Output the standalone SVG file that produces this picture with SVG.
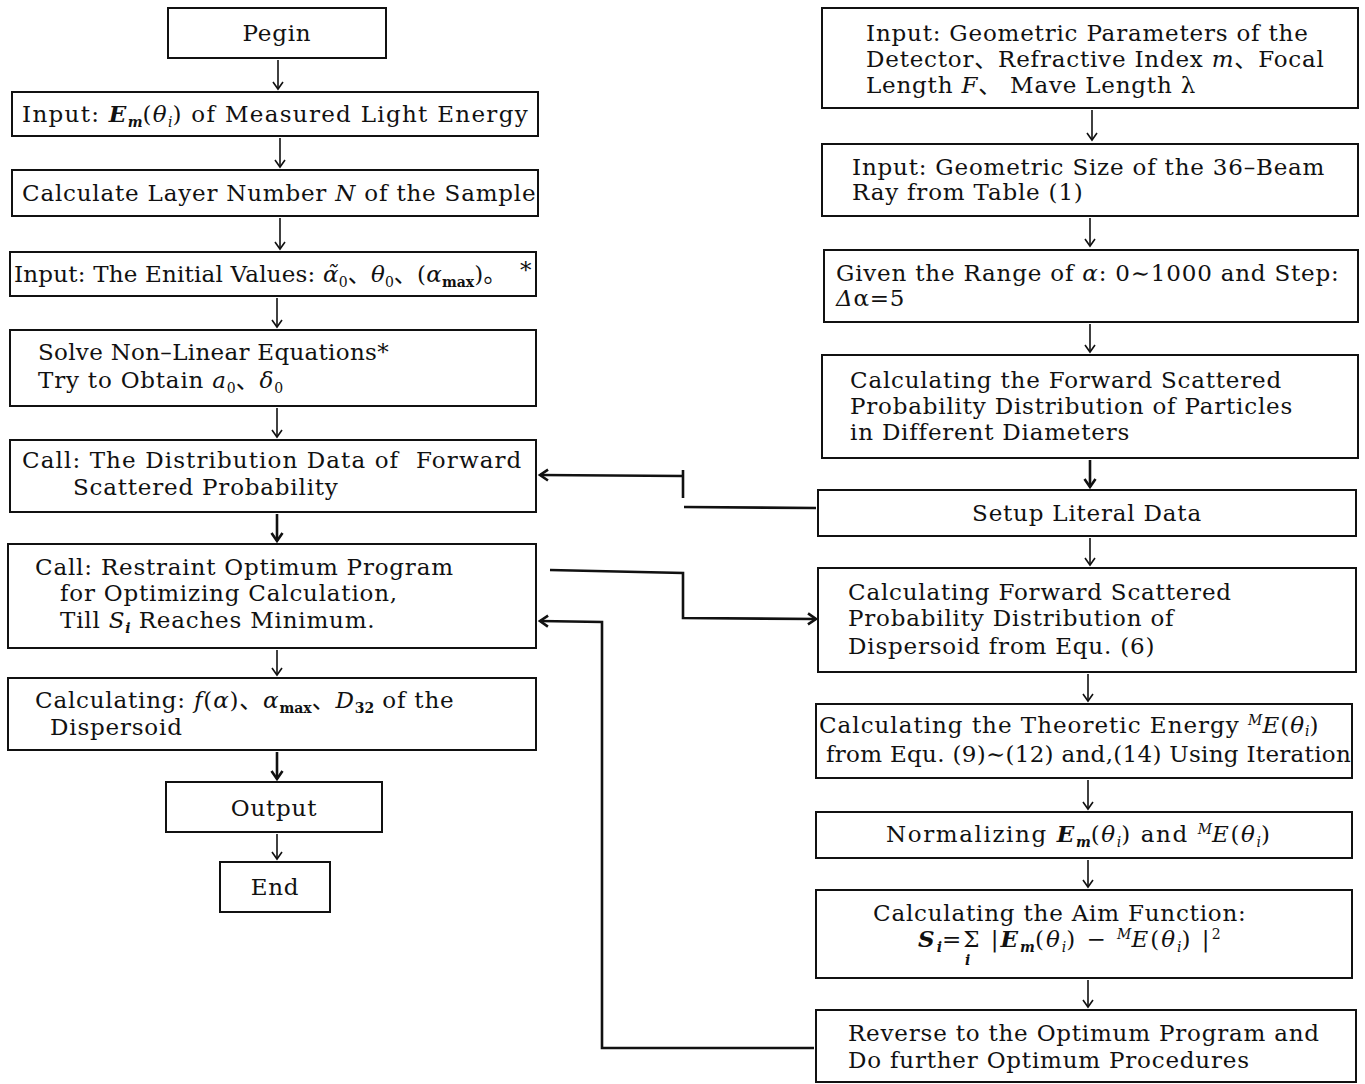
<svg xmlns="http://www.w3.org/2000/svg" width="1365" height="1084" viewBox="0 0 1365 1084">
<defs>
<style>
.box{fill:#fff;stroke:#111;stroke-width:2}
.t{font-family:"DejaVu Serif","Noto Sans CJK SC",serif;font-size:23px;letter-spacing:0.8px;fill:#111}
.c{text-anchor:middle}
.i{font-style:italic}
.b{font-weight:bold}
.s{font-size:14px;letter-spacing:0}
.ln{fill:none;stroke:#111;stroke-width:1.6}
.lb{fill:none;stroke:#111;stroke-width:2.6}
</style>
<marker id="ah" markerUnits="userSpaceOnUse" markerWidth="14" markerHeight="14" refX="12" refY="7" orient="auto">
<path d="M5,2 L12,7 L5,12" fill="none" stroke="#111" stroke-width="1.6"/>
</marker>
<marker id="ahb" markerUnits="userSpaceOnUse" markerWidth="16" markerHeight="16" refX="13" refY="8" orient="auto">
<path d="M5,2.5 L13,8 L5,13.5" fill="none" stroke="#111" stroke-width="2.6"/>
</marker>
</defs>
<rect width="1365" height="1084" fill="#fff"/>

<g id="connectors">
<line class="ln" x1="278" y1="60" x2="278" y2="89" marker-end="url(#ah)"/>
<line class="ln" x1="280" y1="138" x2="280" y2="167" marker-end="url(#ah)"/>
<line class="ln" x1="280" y1="218" x2="280" y2="249" marker-end="url(#ah)"/>
<line class="ln" x1="277" y1="298" x2="277" y2="327" marker-end="url(#ah)"/>
<line class="ln" x1="277" y1="408" x2="277" y2="437" marker-end="url(#ah)"/>
<line class="lb" x1="277" y1="514" x2="277" y2="541" marker-end="url(#ahb)"/>
<line class="ln" x1="277" y1="650" x2="277" y2="675" marker-end="url(#ah)"/>
<line class="lb" x1="277" y1="752" x2="277" y2="779" marker-end="url(#ahb)"/>
<line class="ln" x1="277" y1="834" x2="277" y2="859" marker-end="url(#ah)"/>

<line class="ln" x1="1092" y1="110" x2="1092" y2="140" marker-end="url(#ah)"/>
<line class="ln" x1="1090" y1="218" x2="1090" y2="246" marker-end="url(#ah)"/>
<line class="ln" x1="1090" y1="324" x2="1090" y2="352" marker-end="url(#ah)"/>
<line class="lb" x1="1090" y1="460" x2="1090" y2="487" marker-end="url(#ahb)"/>
<line class="ln" x1="1090" y1="538" x2="1090" y2="565" marker-end="url(#ah)"/>
<line class="ln" x1="1088" y1="674" x2="1088" y2="701" marker-end="url(#ah)"/>
<line class="ln" x1="1088" y1="780" x2="1088" y2="809" marker-end="url(#ah)"/>
<line class="ln" x1="1088" y1="860" x2="1088" y2="887" marker-end="url(#ah)"/>
<line class="ln" x1="1088" y1="980" x2="1088" y2="1007" marker-end="url(#ah)"/>

<path class="lb" d="M816,508 L684,507"/>
<path class="lb" d="M683,498 L683,470"/>
<path class="lb" d="M683,476 L540,475" marker-end="url(#ahb)"/>
<path class="lb" d="M550,570 L683,573 L683,618 L816,619" marker-end="url(#ahb)"/>
<path class="lb" d="M814,1048 L602,1048 L602,622 L540,621" marker-end="url(#ahb)"/>
</g>

<g id="n1"><rect class="box" x="168" y="8" width="218" height="50"/>
<text class="t c" x="277" y="41">Pegin</text></g>

<g id="n2"><rect class="box" x="12" y="92" width="526" height="44"/>
<text class="t" x="22" y="122" style="letter-spacing:1.3px">Input: <tspan class="i b">E</tspan><tspan class="s i b" dy="5">m</tspan><tspan dy="-5">(</tspan><tspan class="i">θ</tspan><tspan class="s i" dy="5">i</tspan><tspan dy="-5">) of Measured Light Energy</tspan></text></g>

<g id="n3"><rect class="box" x="12" y="170" width="526" height="46"/>
<text class="t" x="22" y="201">Calculate Layer Number <tspan class="i">N</tspan> of the Sample</text></g>

<g id="n4"><rect class="box" x="10" y="252" width="526" height="44"/>
<text class="t" x="14" y="282" style="letter-spacing:0.2px">Input: The Enitial Values: <tspan class="i">α̃</tspan><tspan class="s" dy="5">0</tspan><tspan dy="-5">、</tspan><tspan class="i">θ</tspan><tspan class="s" dy="5">0</tspan><tspan dy="-5">、(</tspan><tspan class="i">α</tspan><tspan class="s b" dy="5">max</tspan><tspan dy="-5">)。</tspan></text>
<text class="t" x="520" y="278">*</text></g>

<g id="n5"><rect class="box" x="10" y="330" width="526" height="76"/>
<text class="t" x="38" y="360" style="letter-spacing:0.3px">Solve Non–Linear Equations*</text>
<text class="t" x="38" y="388">Try to Obtain <tspan class="i">a</tspan><tspan class="s" dy="5">0</tspan><tspan dy="-5">、</tspan><tspan class="i">δ</tspan><tspan class="s" dy="5">0</tspan></text></g>

<g id="n6"><rect class="box" x="10" y="440" width="526" height="72"/>
<text class="t" x="22" y="468" xml:space="preserve" style="letter-spacing:1.1px">Call: The Distribution Data of  Forward</text>
<text class="t" x="73" y="495">Scattered Probability</text></g>

<g id="n7"><rect class="box" x="8" y="544" width="528" height="104"/>
<text class="t" x="35" y="575">Call: Restraint Optimum Program</text>
<text class="t" x="60" y="601">for Optimizing Calculation,</text>
<text class="t" x="60" y="628">Till <tspan class="i">S</tspan><tspan class="s i b" dy="5">i</tspan><tspan dy="-5"> Reaches Minimum.</tspan></text></g>

<g id="n8"><rect class="box" x="8" y="678" width="528" height="72"/>
<text class="t" x="35" y="708">Calculating: <tspan class="i">f</tspan>(<tspan class="i">α</tspan>)、<tspan class="i">α</tspan><tspan class="s b" dy="5">max</tspan><tspan dy="-5">、</tspan><tspan class="i">D</tspan><tspan class="s b" dy="5">32</tspan><tspan dy="-5"> of the</tspan></text>
<text class="t" x="50" y="735">Dispersoid</text></g>

<g id="n9"><rect class="box" x="166" y="782" width="216" height="50"/>
<text class="t c" x="274" y="816">Output</text></g>

<g id="n10"><rect class="box" x="220" y="862" width="110" height="50"/>
<text class="t c" x="275" y="895">End</text></g>

<g id="r1"><rect class="box" x="822" y="8" width="536" height="100"/>
<text class="t" x="866" y="41">Input: Geometric Parameters of the</text>
<text class="t" x="866" y="67">Detector、Refractive Index <tspan class="i">m</tspan>、Focal</text>
<text class="t" x="866" y="93">Length <tspan class="i">F</tspan>、 Mave Length λ</text></g>

<g id="r2"><rect class="box" x="822" y="144" width="536" height="72"/>
<text class="t" x="852" y="175">Input:  Geometric Size of the 36–Beam</text>
<text class="t" x="852" y="200">Ray from Table (1)</text></g>

<g id="r3"><rect class="box" x="824" y="250" width="534" height="72"/>
<text class="t" x="836" y="281">Given the Range of <tspan class="i">α</tspan>:  0∼1000 and Step:</text>
<text class="t" x="836" y="306"><tspan class="i">Δ</tspan>α=5</text></g>

<g id="r4"><rect class="box" x="822" y="355" width="536" height="103"/>
<text class="t" x="850" y="388">Calculating the Forward Scattered</text>
<text class="t" x="850" y="414">Probability Distribution of Particles</text>
<text class="t" x="850" y="440">in Different Diameters</text></g>

<g id="r5"><rect class="box" x="818" y="490" width="538" height="46"/>
<text class="t c" x="1087" y="521">Setup Literal Data</text></g>

<g id="r6"><rect class="box" x="818" y="568" width="538" height="104"/>
<text class="t" x="848" y="600">Calculating Forward Scattered</text>
<text class="t" x="848" y="626">Probability Distribution of</text>
<text class="t" x="848" y="654">Dispersoid from Equ. (6)</text></g>

<g id="r7"><rect class="box" x="816" y="704" width="536" height="74"/>
<text class="t" x="819" y="733" style="letter-spacing:1px">Calculating the Theoretic Energy <tspan class="s i" dy="-8">M</tspan><tspan class="i" dy="8">E</tspan>(<tspan class="i">θ</tspan><tspan class="s i" dy="3">i</tspan><tspan dy="-3">)</tspan></text>
<text class="t" x="826" y="762" style="letter-spacing:0.3px">from Equ. (9)∼(12) and,(14) Using Iteration</text></g>

<g id="r8"><rect class="box" x="816" y="812" width="536" height="46"/>
<text class="t" x="886" y="842" style="letter-spacing:1.6px">Normalizing <tspan class="i b">E</tspan><tspan class="s i b" dy="5">m</tspan><tspan dy="-5">(</tspan><tspan class="i">θ</tspan><tspan class="s i" dy="5">i</tspan><tspan dy="-5">) and </tspan><tspan class="s i" dy="-8">M</tspan><tspan class="i" dy="8">E</tspan>(<tspan class="i">θ</tspan><tspan class="s i" dy="5">i</tspan><tspan dy="-5">)</tspan></text></g>

<g id="r9"><rect class="box" x="816" y="890" width="536" height="88"/>
<text class="t" x="873" y="921">Calculating the Aim Function:</text>
<text class="t" x="918" y="947" style="letter-spacing:2px"><tspan class="i b">S</tspan><tspan class="s i b" dy="5">i</tspan><tspan dy="-5">=Σ |</tspan><tspan class="i b">E</tspan><tspan class="s i b" dy="5">m</tspan><tspan dy="-5">(</tspan><tspan class="i">θ</tspan><tspan class="s i" dy="5">i</tspan><tspan dy="-5">) − </tspan><tspan class="s i" dy="-8">M</tspan><tspan class="i" dy="8">E</tspan>(<tspan class="i">θ</tspan><tspan class="s i" dy="5">i</tspan><tspan dy="-5">) |</tspan><tspan class="s" dy="-8">2</tspan></text>
<text class="t s i b" x="965" y="965">i</text></g>

<g id="r10"><rect class="box" x="816" y="1010" width="540" height="72"/>
<text class="t" x="848" y="1041">Reverse to the Optimum Program and</text>
<text class="t" x="848" y="1068">Do further Optimum Procedures</text></g>
</svg>
